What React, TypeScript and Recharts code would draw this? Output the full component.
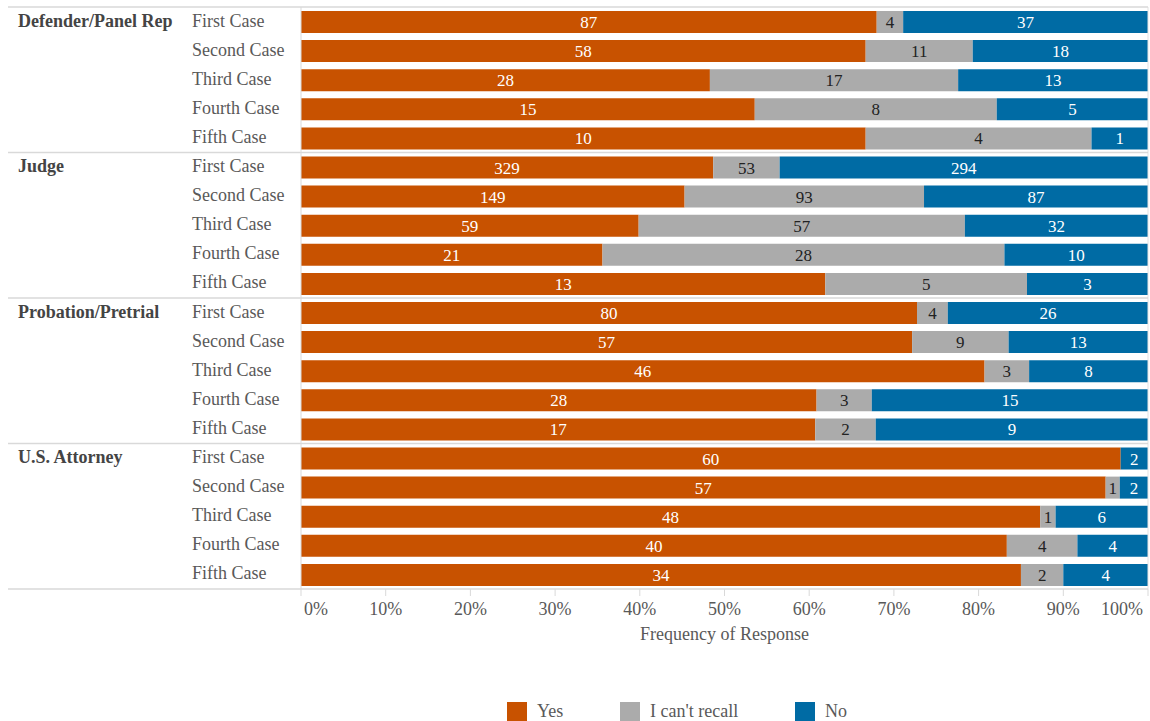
import React from 'react'
import { BarChart, Bar, XAxis, YAxis, LabelList, ReferenceLine } from 'recharts'

const groups = ['Defender/Panel Rep', 'Judge', 'Probation/Pretrial', 'U.S. Attorney']
const cases = ['First Case', 'Second Case', 'Third Case', 'Fourth Case', 'Fifth Case']
const yesCounts = [
  [87, 58, 28, 15, 10],
  [329, 149, 59, 21, 13],
  [80, 57, 46, 28, 17],
  [60, 57, 48, 40, 34],
]
const recallCounts = [
  [4, 11, 17, 8, 4],
  [53, 93, 57, 28, 5],
  [4, 9, 3, 3, 2],
  [0, 1, 1, 4, 2],
]
const noCounts = [
  [37, 18, 13, 5, 1],
  [294, 87, 32, 10, 3],
  [26, 13, 8, 15, 9],
  [2, 2, 6, 4, 4],
]
const xTicks = [0, 0.1, 0.2, 0.3, 0.4, 0.5, 0.6, 0.7, 0.8, 0.9, 1]

const YES = '#C85200'
const RECALL = '#ABABAB'
const NO = '#006BA4'
const TEXT = '#595959'
const FONT = '"Liberation Serif", serif'

const rows = groups.flatMap((g, gi) =>
  cases.map((c, ci) => ({
    id: `${g}|${c}`,
    group: g,
    caseName: c,
    first: ci === 0,
    last: gi === groups.length - 1 && ci === cases.length - 1,
    yes: yesCounts[gi][ci],
    recall: recallCounts[gi][ci],
    no: noCounts[gi][ci],
  }))
)

const W = 1150
const H = 721
const TOP = 7
const PLOT_BOTTOM = 589
const BAND = (PLOT_BOTTOM - TOP) / rows.length

const hideZero = (v: any) => (v === 0 || v === '0' ? '' : v)

function RowTick(props: any) {
  const { y, payload } = props
  const row = rows.find((r) => r.id === payload.value)
  if (!row) return null
  const top = y - BAND / 2
  return (
    <g>
      {row.first && <line x1={8} x2={1148} y1={top} y2={top} stroke="#d9d9d9" strokeWidth={1.5} />}
      {row.last && <line x1={8} x2={1148} y1={y + BAND / 2} y2={y + BAND / 2} stroke="#d9d9d9" strokeWidth={1.5} />}
      {row.first && (
        <text x={18} y={y} dy={5} fontSize={18} fontWeight="bold" fill="#444" fontFamily={FONT}>
          {row.group}
        </text>
      )}
      <text x={192} y={y} dy={5} fontSize={18} fill={TEXT} fontFamily={FONT}>
        {row.caseName}
      </text>
    </g>
  )
}

function PctTick(props: any) {
  const { x, y, payload } = props
  const v = payload.value
  let anchor = 'middle'
  let dx = 0
  if (v === 0) {
    anchor = 'start'
    dx = 3
  } else if (v === 1) {
    anchor = 'end'
    dx = -3
  }
  return (
    <text x={x + dx} y={y} dy={14} textAnchor={anchor} fontSize={18} fill={TEXT} fontFamily={FONT}>
      {`${Math.round(v * 100)}%`}
    </text>
  )
}

const legendItems = [
  { name: 'Yes', color: YES, x: 507 },
  { name: "I can't recall", color: RECALL, x: 620 },
  { name: 'No', color: NO, x: 795 },
]

export default function App() {
  return (
    <div style={{ position: 'absolute', left: 0, top: 0, width: W, height: H, fontFamily: FONT, background: '#fff' }}>
      <BarChart
        width={W}
        height={H}
        data={rows}
        layout="vertical"
        stackOffset="expand"
        barSize={22}
        margin={{ top: TOP, right: 2, bottom: 82, left: 0 }}
      >
        <XAxis
          type="number"
          domain={[0, 1]}
          ticks={xTicks}
          axisLine={false}
          tickLine={{ stroke: '#d9d9d9' }}
          tickSize={7}
          tickMargin={5}
          height={50}
          tick={<PctTick />}
          label={{ value: 'Frequency of Response', position: 'insideBottom', offset: -1, fill: TEXT, fontSize: 18, fontFamily: FONT }}
        />
        <YAxis
          type="category"
          dataKey="id"
          width={301}
          axisLine={{ stroke: '#d9d9d9' }}
          tickLine={false}
          tick={<RowTick />}
          interval={0}
        />
        <ReferenceLine x={1} stroke="#e3e3e3" />
        <Bar dataKey="yes" stackId="a" fill={YES} isAnimationActive={false}>
          <LabelList dataKey="yes" position="center" fill="#fff" fontSize={17} fontFamily={FONT} formatter={hideZero} />
        </Bar>
        <Bar dataKey="recall" stackId="a" fill={RECALL} isAnimationActive={false}>
          <LabelList dataKey="recall" position="center" fill="#222" fontSize={17} fontFamily={FONT} formatter={hideZero} />
        </Bar>
        <Bar dataKey="no" stackId="a" fill={NO} isAnimationActive={false}>
          <LabelList dataKey="no" position="center" fill="#fff" fontSize={17} fontFamily={FONT} formatter={hideZero} />
        </Bar>
      </BarChart>
      {legendItems.map((it) => (
        <div key={it.name} style={{ position: 'absolute', left: it.x, top: 701, display: 'flex', alignItems: 'center' }}>
          <div style={{ width: 20, height: 20, background: it.color, marginRight: 10 }} />
          <span style={{ fontSize: 18, color: TEXT, fontFamily: FONT }}>{it.name}</span>
        </div>
      ))}
    </div>
  )
}
